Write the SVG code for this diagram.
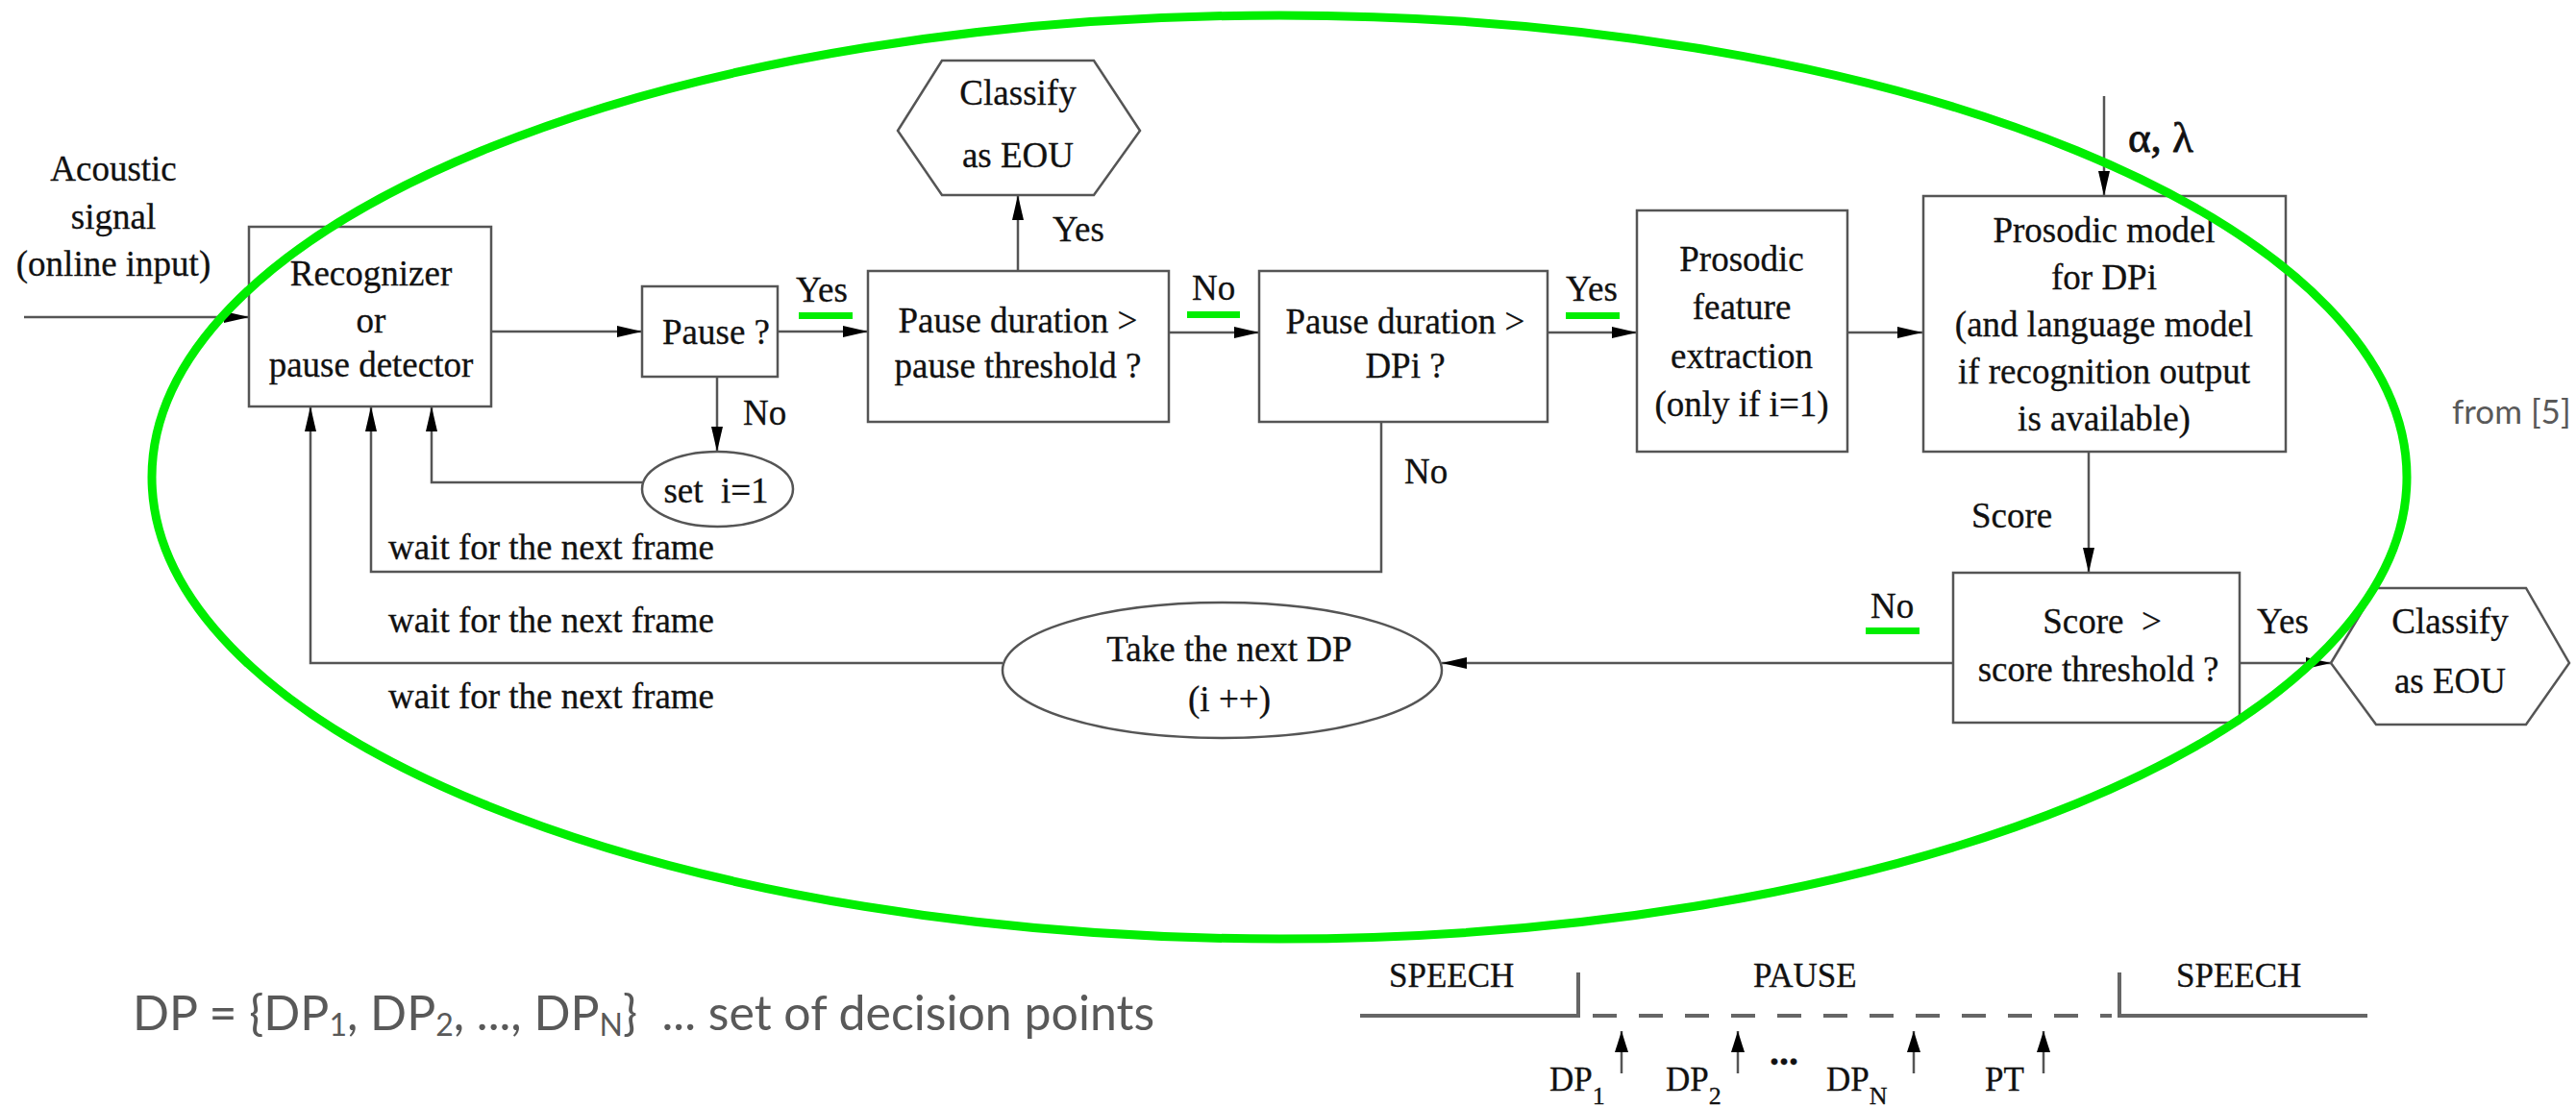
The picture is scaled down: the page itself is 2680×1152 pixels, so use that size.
<svg xmlns="http://www.w3.org/2000/svg" width="2680" height="1152" viewBox="0 0 2680 1152">
<defs>
<style>
.t{font-family:"Liberation Serif","Times New Roman",serif;font-size:37px;fill:#111;stroke:#111;stroke-width:0.3}
.m{text-anchor:middle}
.bx{fill:#fff;stroke:#555;stroke-width:2.5}
.ln{fill:none;stroke:#555;stroke-width:2.5}
.tl{fill:none;stroke:#666;stroke-width:4}
.g{fill:#00ee00}
.s{font-family:"Lato","Open Sans",sans-serif;fill:#595959}
</style>
<marker id="ah" markerUnits="userSpaceOnUse" markerWidth="26" markerHeight="12" refX="26" refY="6" orient="auto"><path d="M0,0 L26,6 L0,12 z" fill="#000"/></marker>
<marker id="ah2" markerUnits="userSpaceOnUse" markerWidth="22" markerHeight="14" refX="22" refY="7" orient="auto"><path d="M0,0 L22,7 L0,14 z" fill="#000"/></marker>
</defs>
<rect width="2680" height="1152" fill="#fff"/>

<g id="connectors">
<path class="ln" d="M25,330 H259" marker-end="url(#ah)"/>
<path class="ln" d="M511,345 H668" marker-end="url(#ah)"/>
<path class="ln" d="M809,345 H903" marker-end="url(#ah)"/>
<path class="ln" d="M1059,282 V203" marker-end="url(#ah)"/>
<path class="ln" d="M1216,346 H1310" marker-end="url(#ah)"/>
<path class="ln" d="M1610,346 H1703" marker-end="url(#ah)"/>
<path class="ln" d="M1922,346 H2000" marker-end="url(#ah)"/>
<path class="ln" d="M2189,100 V204" marker-end="url(#ah)"/>
<path class="ln" d="M2173,470 V596" marker-end="url(#ah)"/>
<path class="ln" d="M2330,690 H2425" marker-end="url(#ah)"/>
<path class="ln" d="M2032,690 H1500" marker-end="url(#ah)"/>
<path class="ln" d="M1043,690 H323 V423" marker-end="url(#ah)"/>
<path class="ln" d="M1437,439 V595 H386 V423" marker-end="url(#ah)"/>
<path class="ln" d="M746,392 V470" marker-end="url(#ah)"/>
<path class="ln" d="M668,502 H449 V423" marker-end="url(#ah)"/>
</g>

<g id="input-label">
<text class="t m" x="118" y="188">Acoustic</text>
<text class="t m" x="118" y="238">signal</text>
<text class="t m" x="118" y="287">(online input)</text>
</g>

<g id="recognizer">
<rect class="bx" x="259" y="236" width="252" height="187"/>
<text class="t m" x="386" y="297">Recognizer</text>
<text class="t m" x="386" y="346">or</text>
<text class="t m" x="386" y="392">pause detector</text>
</g>

<g id="pause">
<rect class="bx" x="668" y="298" width="141" height="94"/>
<text class="t m" x="745" y="358">Pause ?</text>
</g>

<g id="set-i">
<ellipse class="bx" cx="746.5" cy="509" rx="78.5" ry="39"/>
<text class="t m" x="745" y="523">set&#160; i=1</text>
</g>

<g id="pause-threshold">
<rect class="bx" x="903" y="282" width="313" height="157"/>
<text class="t m" x="1059" y="346">Pause duration &gt;</text>
<text class="t m" x="1059" y="393">pause threshold ?</text>
</g>

<g id="classify-1">
<polygon class="bx" points="934,136 980,63 1138,63 1186,136 1138,203 980,203"/>
<text class="t m" x="1059" y="109">Classify</text>
<text class="t m" x="1059" y="174">as EOU</text>
</g>

<g id="dpi">
<rect class="bx" x="1310" y="282" width="300" height="157"/>
<text class="t m" x="1462" y="347">Pause duration &gt;</text>
<text class="t m" x="1462" y="393">DPi ?</text>
</g>

<g id="feature">
<rect class="bx" x="1703" y="219" width="219" height="251"/>
<text class="t m" x="1812" y="282">Prosodic</text>
<text class="t m" x="1812" y="332">feature</text>
<text class="t m" x="1812" y="383">extraction</text>
<text class="t m" x="1812" y="433">(only if i=1)</text>
</g>

<g id="model">
<rect class="bx" x="2001" y="204" width="377" height="266"/>
<text class="t m" x="2189" y="252">Prosodic model</text>
<text class="t m" x="2189" y="301">for DPi</text>
<text class="t m" x="2189" y="350">(and language model</text>
<text class="t m" x="2189" y="399">if recognition output</text>
<text class="t m" x="2189" y="448">is available)</text>
</g>

<g id="score">
<rect class="bx" x="2032" y="596" width="298" height="156"/>
<text class="t m" x="2187" y="659">Score&#160; &gt;</text>
<text class="t m" x="2183" y="709">score threshold ?</text>
</g>

<g id="classify-2">
<polygon class="bx" points="2425,690 2472,612 2628,612 2673,690 2628,754 2472,754"/>
<text class="t m" x="2549" y="659">Classify</text>
<text class="t m" x="2549" y="721">as EOU</text>
</g>

<g id="next-dp">
<ellipse class="bx" cx="1271.5" cy="697.5" rx="228.5" ry="70.5"/>
<text class="t m" x="1279" y="688">Take the next DP</text>
<text class="t m" x="1279" y="740">(i ++)</text>
</g>

<g id="labels">
<text class="t" x="828" y="314">Yes</text>
<rect class="g" x="831" y="325" width="56" height="7"/>
<text class="t" x="773" y="442">No</text>
<text class="t" x="1095" y="251">Yes</text>
<text class="t" x="1240" y="312">No</text>
<rect class="g" x="1235" y="324" width="55" height="7"/>
<text class="t" x="1629" y="313">Yes</text>
<rect class="g" x="1629" y="325" width="56" height="7"/>
<text class="t" x="1461" y="503">No</text>
<text class="t" x="2214" y="158" style="font-size:45px;stroke-width:0.8">α, λ</text>
<text class="t" x="2051" y="549">Score</text>
<text class="t" x="1946" y="643">No</text>
<rect class="g" x="1941" y="653" width="56" height="7"/>
<text class="t" x="2348" y="659">Yes</text>
<text class="t" x="404" y="582">wait for the next frame</text>
<text class="t" x="404" y="658">wait for the next frame</text>
<text class="t" x="404" y="737">wait for the next frame</text>
<text class="s" x="2551" y="441" style="font-size:35px">from [5]</text>
</g>

<g id="highlight">
<ellipse cx="1331" cy="496.5" rx="1173" ry="480.5" fill="none" stroke="#00ee00" stroke-width="9"/>
</g>

<g id="timeline">
<path class="tl" d="M1415,1057 H1642 V1012"/>
<path class="tl" d="M1657,1057 H2197" stroke-dasharray="25 23"/>
<path class="tl" d="M2205,1012 V1057 H2463"/>
<path class="ln" d="M1687,1117 V1073" marker-end="url(#ah2)"/>
<path class="ln" d="M1808,1117 V1073" marker-end="url(#ah2)"/>
<path class="ln" d="M1991,1117 V1073" marker-end="url(#ah2)"/>
<path class="ln" d="M2126,1117 V1073" marker-end="url(#ah2)"/>
<text class="t" x="1445" y="1027" style="font-size:35px">SPEECH</text>
<text class="t" x="1824" y="1027" style="font-size:35px">PAUSE</text>
<text class="t" x="2264" y="1027" style="font-size:35px">SPEECH</text>
<text class="t" x="1612" y="1135" style="font-size:35px">DP<tspan dy="14" style="font-size:26px">1</tspan></text>
<text class="t" x="1733" y="1135" style="font-size:35px">DP<tspan dy="14" style="font-size:26px">2</tspan></text>
<text class="t" x="1841" y="1108" style="font-size:40px;font-weight:bold">...</text>
<text class="t" x="1900" y="1135" style="font-size:35px">DP<tspan dy="14" style="font-size:26px">N</tspan></text>
<text class="t" x="2065" y="1135" style="font-size:35px">PT</text>
</g>

<g id="definition">
<text class="s" x="138" y="1072" style="font-size:50px">DP = {DP<tspan dy="6" style="font-size:32px">1</tspan><tspan dy="-6">, DP</tspan><tspan dy="6" style="font-size:32px">2</tspan><tspan dy="-6">, ..., DP</tspan><tspan dy="6" style="font-size:32px">N</tspan><tspan dy="-6">}&#160; ... set of decision points</tspan></text>
</g>
</svg>
